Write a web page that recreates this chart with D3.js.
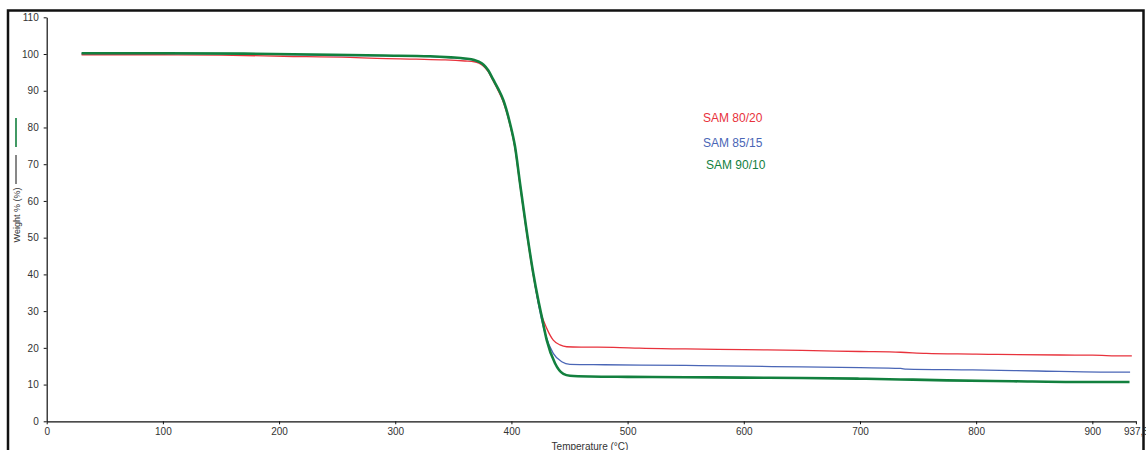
<!DOCTYPE html>
<html>
<head>
<meta charset="utf-8">
<script src="https://cdn.jsdelivr.net/npm/d3@7/dist/d3.min.js"></script>
<style>
  html, body { margin: 0; padding: 0; background: #fff; }
  svg { display: block; }
  text { font-family: "Liberation Sans", Arial, sans-serif; }
</style>
</head>
<body>
<svg id="chart" width="1146" height="450"></svg>
<script>
// Thermogravimetric curves: temperature (°C) vs remaining weight (%)
const tempRed = [30, 60, 100, 150, 204, 261, 284, 318, 343, 360, 368, 372, 376, 380, 384.4, 388.5, 393, 398.8, 403.1, 407.4, 412.6, 418.8, 424.6, 430.4, 436, 441.8, 447.6, 460, 488, 510, 550, 600, 650, 700, 735, 757, 800, 818, 872, 900, 927, 934];
const weightRed = [99.8, 99.8, 99.8, 99.7, 99.4, 99.1, 98.8, 98.6, 98.4, 98.1, 97.9, 97.5, 96.7, 95.2, 92.6, 90.1, 86.9, 80.6, 74.2, 64.2, 52.4, 39.7, 30.3, 25.3, 22.1, 20.8, 20.3, 20.2, 20.15, 19.9, 19.7, 19.5, 19.3, 19.0, 18.8, 18.5, 18.3, 18.2, 18.05, 18.0, 17.8, 17.8];

const tempBlue = [30, 100, 160, 246, 300, 330, 348, 360, 368, 372, 376, 380, 384.4, 388.5, 393, 398.8, 403.1, 407.4, 412.6, 418.8, 423.5, 428.9, 436, 443.3, 450.4, 480, 550, 600, 650, 700, 735, 740, 797, 853, 907, 932.5];
const weightBlue = [100.1, 100.1, 100.1, 99.6, 99.5, 99.3, 99.0, 98.7, 98.3, 97.8, 97.0, 95.5, 92.9, 90.5, 87.4, 81.0, 74.7, 64.7, 52.9, 40.2, 31.5, 24.0, 18.5, 16.2, 15.5, 15.4, 15.2, 15.0, 14.8, 14.6, 14.4, 14.2, 14.0, 13.7, 13.4, 13.4];

const tempGreen = [30, 100, 170, 246, 290, 330, 348, 360, 368, 372, 376, 380, 384.4, 388.5, 393, 398.8, 403.1, 407.4, 412.6, 418.8, 423.1, 426.1, 430.4, 437.5, 444.7, 450.4, 467.6, 500, 550, 600, 650, 700, 735, 775, 832, 889, 932];
const weightGreen = [100.2, 100.2, 100.1, 99.8, 99.6, 99.4, 99.1, 98.8, 98.4, 97.9, 97.1, 95.6, 93.0, 90.6, 87.5, 81.1, 74.8, 64.8, 53.0, 40.3, 33.0, 28.5, 22.1, 15.8, 12.9, 12.4, 12.2, 12.1, 12.0, 11.9, 11.8, 11.6, 11.4, 11.15, 10.9, 10.7, 10.7];

const seriesNames = ["SAM 80/20", "SAM 85/15", "SAM 90/10"];
const seriesColors = ["#e8323c", "#4a66b6", "#12803e"];
const seriesWidths = [1.3, 1.3, 2.6];

const xTicks = [0, 100, 200, 300, 400, 500, 600, 700, 800, 900, 937.5];
const yTicks = [0, 10, 20, 30, 40, 50, 60, 70, 80, 90, 100, 110];

const svg = d3.select("#chart");

// outer frame
svg.append("rect")
  .attr("x", 8).attr("y", 10.5)
  .attr("width", 1135.5).attr("height", 470)
  .attr("fill", "none").attr("stroke", "#111").attr("stroke-width", 2.5);

const x = d3.scaleLinear().domain([0, 937.5]).range([46.7, 1135.9]);
const y = d3.scaleLinear().domain([0, 110]).range([421.3, 17.3]);

const fmt = d => String(d).replace(".", ",");

const xAxis = svg.append("g")
  .attr("transform", `translate(0,${y(0)})`)
  .call(d3.axisBottom(x).tickValues(xTicks).tickFormat(fmt).tickSizeInner(3).tickSizeOuter(0).tickPadding(4));

const yAxis = svg.append("g")
  .attr("transform", `translate(${x(0)},0)`)
  .call(d3.axisLeft(y).tickValues(yTicks).tickSizeInner(3).tickSizeOuter(0).tickPadding(5));

[xAxis, yAxis].forEach(g => {
  g.selectAll("path.domain").attr("stroke", "#111").attr("stroke-width", 1.2);
  g.selectAll(".tick line").attr("stroke", "#111");
  g.selectAll(".tick text")
    .attr("fill", "#333")
    .style("font-size", "10px")
    .style("font-family", "'Liberation Sans', Arial, sans-serif");
});

// axis titles
svg.append("text")
  .attr("x", 590).attr("y", 450)
  .attr("text-anchor", "middle")
  .attr("fill", "#333")
  .style("font-size", "10px")
  .text("Temperature (°C)");

svg.append("text")
  .attr("transform", "translate(19.5,215) rotate(-90)")
  .attr("text-anchor", "middle")
  .attr("fill", "#333")
  .style("font-size", "9px")
  .text("Weight % (%)");

// small series marks beside the vertical title
svg.append("line")
  .attr("x1", 16).attr("x2", 16).attr("y1", 118).attr("y2", 147)
  .attr("stroke", "#12803e").attr("stroke-width", 1.6);
svg.append("line")
  .attr("x1", 16).attr("x2", 16).attr("y1", 155).attr("y2", 184)
  .attr("stroke", "#111").attr("stroke-width", 1);

// curves
const series = [
  tempRed.map((t, i) => [t, weightRed[i]]),
  tempBlue.map((t, i) => [t, weightBlue[i]]),
  tempGreen.map((t, i) => [t, weightGreen[i]])
];

const line = d3.line()
  .x(d => x(d[0]))
  .y(d => y(d[1]))
  .curve(d3.curveMonotoneX);

svg.append("g").selectAll("path")
  .data(series)
  .join("path")
  .attr("d", line)
  .attr("fill", "none")
  .attr("stroke", (d, i) => seriesColors[i])
  .attr("stroke-width", (d, i) => seriesWidths[i])
  .attr("stroke-linejoin", "round");

// series labels
const labelPos = [[703, 122], [703, 146.5], [706, 168.5]];
svg.append("g").selectAll("text")
  .data(seriesNames)
  .join("text")
  .attr("x", (d, i) => labelPos[i][0])
  .attr("y", (d, i) => labelPos[i][1])
  .attr("fill", (d, i) => seriesColors[i])
  .style("font-size", "12px")
  .text(d => d);
</script>
</body>
</html>
